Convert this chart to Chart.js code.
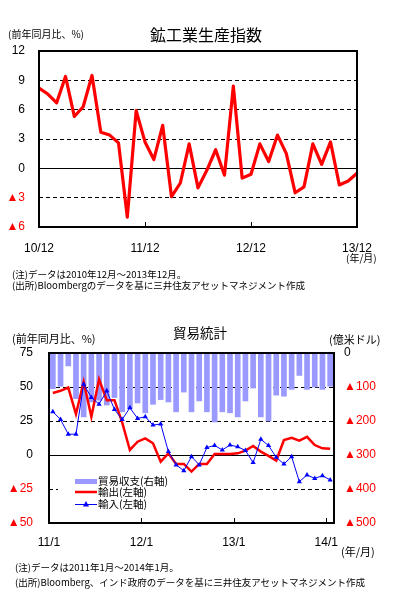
<!DOCTYPE html>
<html><head><meta charset="utf-8">
<script src="https://cdn.jsdelivr.net/npm/chart.js@4/dist/chart.umd.min.js"></script>
<style>
html,body{margin:0;padding:0;background:#fff;}
body{width:393px;height:594px;position:relative;overflow:hidden;font-family:"Noto Sans CJK JP",sans-serif;color:#000;}
.t{position:absolute;white-space:nowrap;line-height:1;}
#w1{position:absolute;left:0;top:0;width:393px;height:265px;}
#w2{position:absolute;left:0;top:300px;width:393px;height:260px;}
</style></head>
<body>
<div id="w1"><canvas id="c1" width="393" height="265"></canvas></div>
<div id="w2"><canvas id="c2" width="393" height="260"></canvas></div>
<div class="t" style="left:150px;top:26px;font-size:16px;">鉱工業生産指数</div>
<div class="t" style="left:8px;top:29px;font-size:10px;">(前年同月比、%)</div>
<div class="t" style="left:346px;top:253px;font-size:10px;">(年/月)</div>
<div class="t" style="left:12px;top:270px;font-size:9.5px;">(注)データは2010年12月～2013年12月。</div>
<div class="t" style="left:12px;top:281px;font-size:9.5px;">(出所)Bloombergのデータを基に三井住友アセットマネジメント作成</div>
<div class="t" style="left:173px;top:326px;font-size:13.5px;">貿易統計</div>
<div class="t" style="left:12px;top:333px;font-size:11px;">(前年同月比、%)</div>
<div class="t" style="left:329px;top:334px;font-size:11px;">(億米ドル)</div>
<div class="t" style="left:341px;top:546px;font-size:11px;">(年/月)</div>
<div class="t" style="left:15px;top:563px;font-size:9.5px;">(注)データは2011年1月～2014年1月。</div>
<div class="t" style="left:15px;top:578px;font-size:9.5px;">(出所)Bloomberg、インド政府のデータを基に三井住友アセットマネジメント作成</div>
<script>
// ---------- data: chart 1 (鉱工業生産指数) ----------
const topCategories = ['10/12',
 '11/1','11/2','11/3','11/4','11/5','11/6','11/7','11/8','11/9','11/10','11/11','11/12',
 '12/1','12/2','12/3','12/4','12/5','12/6','12/7','12/8','12/9','12/10','12/11','12/12',
 '13/1','13/2','13/3','13/4','13/5','13/6','13/7','13/8','13/9','13/10','13/11','13/12'];
const topTickLabels = ['10/12','11/12','12/12','13/12'];
const iipYoY = [8.2,7.6,6.7,9.4,5.3,6.3,9.5,3.7,3.4,2.6,-5.0,5.9,2.7,0.9,4.4,-2.9,-1.5,2.5,-2.0,-0.2,1.9,-0.7,8.4,-1.0,-0.6,2.5,0.7,3.4,1.5,-2.5,-1.9,2.5,0.4,2.7,-1.7,-1.3,-0.5];
const topYTicks = [-6,-3,0,3,6,9,12];

// ---------- data: chart 2 (貿易統計) ----------
const tradeCategories = [
 '11/1','11/2','11/3','11/4','11/5','11/6','11/7','11/8','11/9','11/10','11/11','11/12',
 '12/1','12/2','12/3','12/4','12/5','12/6','12/7','12/8','12/9','12/10','12/11','12/12',
 '13/1','13/2','13/3','13/4','13/5','13/6','13/7','13/8','13/9','13/10','13/11','13/12','14/1'];
const tradeTickLabels = ['11/1','12/1','13/1','14/1'];
const tradeBalance = [-105,-98,-38,-134,-188,-144,-139,-153,-131,-173,-163,-147,-176,-151,-137,-144,-173,-115,-173,-141,-173,-203,-173,-176,-188,-141,-103,-188,-200,-124,-127,-107,-66,-107,-100,-107,-98];
const exportsYoY = [45.6,47.2,49.6,30,53.8,28.1,55.7,40.3,40.3,24,3.7,9.8,12.2,8.6,-4.9,1.2,-6.6,-6.6,-12.2,-6.6,-6.6,0.7,0.7,0.7,1.2,3.2,6.6,2.5,-0.7,-4.1,11,12.7,10.5,13.4,7.3,4.9,4.6];
const importsYoY = [31.8,26.1,15.3,15.3,52,42.3,37.4,47.2,33.5,26.1,34.7,26.9,28.1,22,22.8,2.5,-7.3,-11.5,-1.2,-7.3,5.5,7,3.7,7.3,6.1,3.3,-5.6,11.5,7,-1.7,-6.6,-1.2,-19.6,-14.7,-17.2,-15.2,-18.3];
const legendLabels = ['貿易収支(右軸)','輸出(左軸)','輸入(左軸)'];

const RED = '#FF0000', BLUE = '#0000FF', LAV = '#9999FF';
const numFont = {family: 'Arial, "Liberation Sans", sans-serif', size: 12};
const fmtTri = v => v < 0 ? '▲' + (-v) : String(v);
const triColor = c => (c.tick && c.tick.value < 0) ? RED : '#000';
const dashAt0 = c => (c.tick && c.tick.value === 0) ? [] : [4, 3];

// plot frame + inward tick marks, drawn on the canvas from the chart area and x scale
function framePlugin(tickList, between) {
  return {
    id: 'plotFrame',
    afterDatasetsDraw(chart) {
      const ctx = chart.ctx, a = chart.chartArea, x = chart.scales.x;
      const L = Math.round(a.left), T = Math.round(a.top);
      const R = Math.round(a.right), B = Math.round(a.bottom);
      ctx.save();
      ctx.setLineDash([]);
      ctx.strokeStyle = '#000';
      ctx.lineWidth = 2;
      ctx.strokeRect(L, T, R - L, B - T);
      ctx.lineWidth = 1;
      const half = between ? (x.getPixelForValue(1) - x.getPixelForValue(0)) / 2 : 0;
      const labs = x.getLabels();
      ctx.beginPath();
      for (let i = 0; i < labs.length; i++) {
        if (tickList.indexOf(labs[i]) < 0) continue;
        const px = Math.round(x.getPixelForValue(i) - half) + 0.5;
        if (px <= L + 2 || px >= R - 2) continue;
        ctx.moveTo(px, B);
        ctx.lineTo(px, B - 5);
      }
      ctx.stroke();
      ctx.restore();
    }
  };
}

// ---------- chart 1 ----------
const chart1 = new Chart(document.getElementById('c1'), {
  type: 'line',
  data: {
    labels: topCategories,
    datasets: [{
      data: iipYoY, borderColor: RED, borderWidth: 3.2, pointRadius: 0,
      tension: 0, fill: false, borderJoinStyle: 'round'
    }]
  },
  options: {
    responsive: false, animation: false, devicePixelRatio: 1,
    layout: {padding: {top: 51, right: 36, left: 0, bottom: 0}},
    plugins: {legend: {display: false}, tooltip: {enabled: false}},
    scales: {
      x: {
        grid: {display: false, drawTicks: false}, border: {display: false},
        afterFit: s => { s.height = 38; },
        ticks: {
          autoSkip: false, maxRotation: 0, padding: 14, color: '#000', font: numFont,
          callback: function (v) { const l = this.getLabelForValue(v); return topTickLabels.includes(l) ? l : ''; }
        }
      },
      y: {
        min: -6, max: 12,
        afterFit: s => { s.width = 39; },
        afterBuildTicks: s => { s.ticks = topYTicks.map(v => ({value: v})); },
        grid: {drawTicks: false, color: '#000', lineWidth: 1},
        border: {display: false, dash: dashAt0},
        ticks: {padding: 14, color: triColor, font: numFont, callback: fmtTri}
      }
    }
  },
  plugins: [framePlugin(topTickLabels, false)]
});

// ---------- chart 2 ----------
const legendPlugin = {
  id: 'innerLegend',
  afterDatasetsDraw(chart) {
    const ctx = chart.ctx;
    ctx.save();
    ctx.fillStyle = '#fff';
    ctx.fillRect(58, 173, 129, 38);
    const x0 = 75, x1 = 97, tx = 98;
    const rows = [181, 192, 204];
    ctx.fillStyle = LAV;
    ctx.fillRect(x0, rows[0] - 2, x1 - x0, 5);
    ctx.strokeStyle = RED; ctx.lineWidth = 2.5;
    ctx.beginPath(); ctx.moveTo(x0, rows[1]); ctx.lineTo(x1, rows[1]); ctx.stroke();
    ctx.strokeStyle = BLUE; ctx.lineWidth = 1;
    ctx.beginPath(); ctx.moveTo(x0, rows[2] + 0.5); ctx.lineTo(x1, rows[2] + 0.5); ctx.stroke();
    ctx.fillStyle = BLUE;
    ctx.beginPath(); ctx.moveTo(86, rows[2] - 3); ctx.lineTo(89, rows[2] + 2.5); ctx.lineTo(83, rows[2] + 2.5); ctx.closePath(); ctx.fill();
    ctx.fillStyle = '#000';
    ctx.font = '10.5px "Noto Sans CJK JP", sans-serif';
    ctx.textBaseline = 'middle';
    legendLabels.forEach((t, i) => ctx.fillText(t, tx, rows[i]));
    ctx.restore();
  }
};

const chart2 = new Chart(document.getElementById('c2'), {
  data: {
    labels: tradeCategories,
    datasets: [
      {type: 'line', data: importsYoY, yAxisID: 'y', borderColor: BLUE, backgroundColor: BLUE, borderWidth: 1,
       pointStyle: 'triangle', pointRadius: 3, pointBorderWidth: 0, tension: 0, fill: false, order: 0},
      {type: 'line', data: exportsYoY, yAxisID: 'y', borderColor: RED, borderWidth: 2.5, pointRadius: 0,
       tension: 0, fill: false, order: 1},
      {type: 'bar', data: tradeBalance, yAxisID: 'y1', backgroundColor: LAV, borderWidth: 0,
       barThickness: 5, order: 2}
    ]
  },
  options: {
    responsive: false, animation: false, devicePixelRatio: 1,
    layout: {padding: {top: 53, right: 0, left: 0, bottom: 0}},
    plugins: {legend: {display: false}, tooltip: {enabled: false}},
    scales: {
      x: {
        type: 'category', offset: true,
        grid: {display: false, drawTicks: false}, border: {display: false},
        afterFit: s => { s.height = 37; },
        ticks: {
          autoSkip: false, maxRotation: 0, padding: 12, labelOffset: -3.85, color: '#000', font: numFont,
          callback: function (v) { const l = this.getLabelForValue(v); return tradeTickLabels.includes(l) ? l : ''; }
        }
      },
      y: {
        position: 'left', min: -50, max: 75,
        afterFit: s => { s.width = 49; },
        ticks: {stepSize: 25, padding: 16, color: triColor, font: numFont, callback: fmtTri},
        grid: {drawTicks: false, color: '#000', lineWidth: 1},
        border: {display: false, dash: dashAt0}
      },
      y1: {
        position: 'right', min: -500, max: 0,
        afterFit: s => { s.width = 59; },
        ticks: {stepSize: 100, padding: 10, color: triColor, font: numFont, callback: fmtTri},
        grid: {drawOnChartArea: false, drawTicks: false},
        border: {display: false}
      }
    }
  },
  plugins: [framePlugin(tradeTickLabels, true), legendPlugin]
});
</script>
</body></html>
